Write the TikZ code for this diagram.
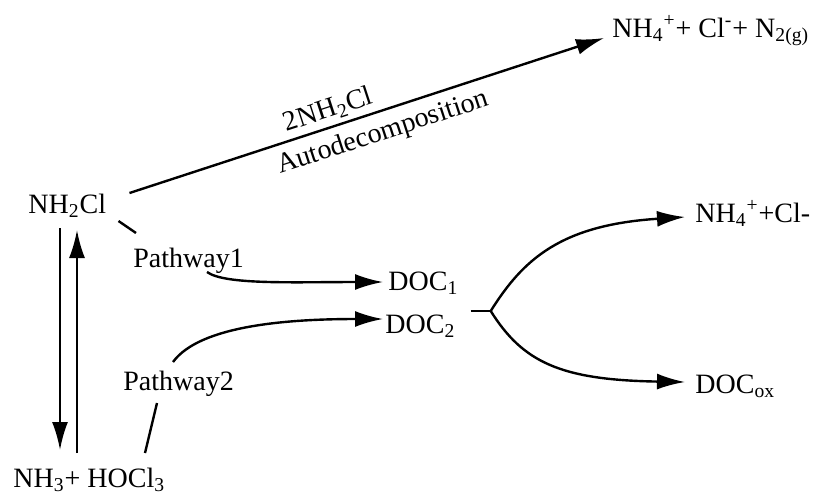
\documentclass[tikz,border=0pt]{standalone}
\usepackage{fontspec}
\setmainfont{Liberation Serif}
\usetikzlibrary{arrows.meta}
\begin{document}
\begin{tikzpicture}[x=0.5pt,y=-0.5pt,
chem/.style = {inner sep=0pt, anchor=base west},
arr/.style = {line width=1.2pt, -{Latex[length=14pt,width=8pt]}},
ln/.style = {line width=1.2pt}
]
\fontsize{14}{16}\selectfont
\useasboundingbox (0,0) rectangle (813,494);
% species
\node[chem] (nhcl)   at (28,213)  {NH\textsubscript{2}Cl};
\node[chem] (nhhocl) at (13,487)  {NH\textsubscript{3}+ HOCl\textsubscript{3}};
\node[chem] (pw1)    at (133,267) {Pathway1};
\node[chem] (pw2)    at (123,390) {Pathway2};
\node[chem] (doc1)   at (388,290) {DOC\textsubscript{1}};
\node[chem] (doc2)   at (385,333) {DOC\textsubscript{2}};
\node[chem] (nhfour) at (695,222) {NH\textsubscript{4}\textsuperscript{+}+Cl-};
\node[chem] (docox)  at (695,393) {DOC\textsubscript{ox}};
\node[chem] (prod)   at (612,37)  {NH\textsubscript{4}\textsuperscript{+}+ Cl\textsuperscript{-}+ N\textsubscript{2(g)}};
% autodecomposition
\draw[arr] ([shift={(23,-20)}]nhcl.base east) -- ([shift={(-8,1)}]prod.base west)
  node[sloped,above,pos=0.43,inner sep=2pt] {2NH\textsubscript{2}Cl}
  node[sloped,below,pos=0.52,inner sep=4pt] {Autodecomposition};
% NH2Cl <-> NH3 + HOCl3
\coordinate (dn0) at (60,228);
\coordinate (dn1) at (60,450);
\coordinate (up0) at (77,453);
\coordinate (up1) at (77,230);
\draw[arr] (dn0) -- (dn1);
\draw[arr] (up0) -- (up1);
% pathways
\draw[ln] ([shift={(12,8)}]nhcl.base east) -- ([shift={(3,-34)}]pw1.base west);
\draw[ln] ([shift={(34,13)}]pw2.base west) -- ([shift={(22,63)}]pw2.base west);
\draw[arr] ([shift={(74,5)}]pw1.base west) .. controls +(18,13) and +(-90,0) .. ([shift={(-5,-8)}]doc1.base west);
\draw[arr] ([shift={(50,-28)}]pw2.base west) .. controls +(27,-37) and +(-93,0) .. ([shift={(-2,-14)}]doc2.base west);
% DOC2 branching
\coordinate (fork) at ([shift={(15,-22)}]doc2.base east);
\draw[ln] (fork) -- ++(20,0) coordinate (fk);
\draw[arr] (fk) .. controls +(32,-51) and +(-125,8) .. ([shift={(-10,-5)}]nhfour.base west);
\draw[arr] (fk) .. controls +(32,51) and +(-125,-2) .. ([shift={(-10,-11)}]docox.base west);
\end{tikzpicture}
\end{document}
